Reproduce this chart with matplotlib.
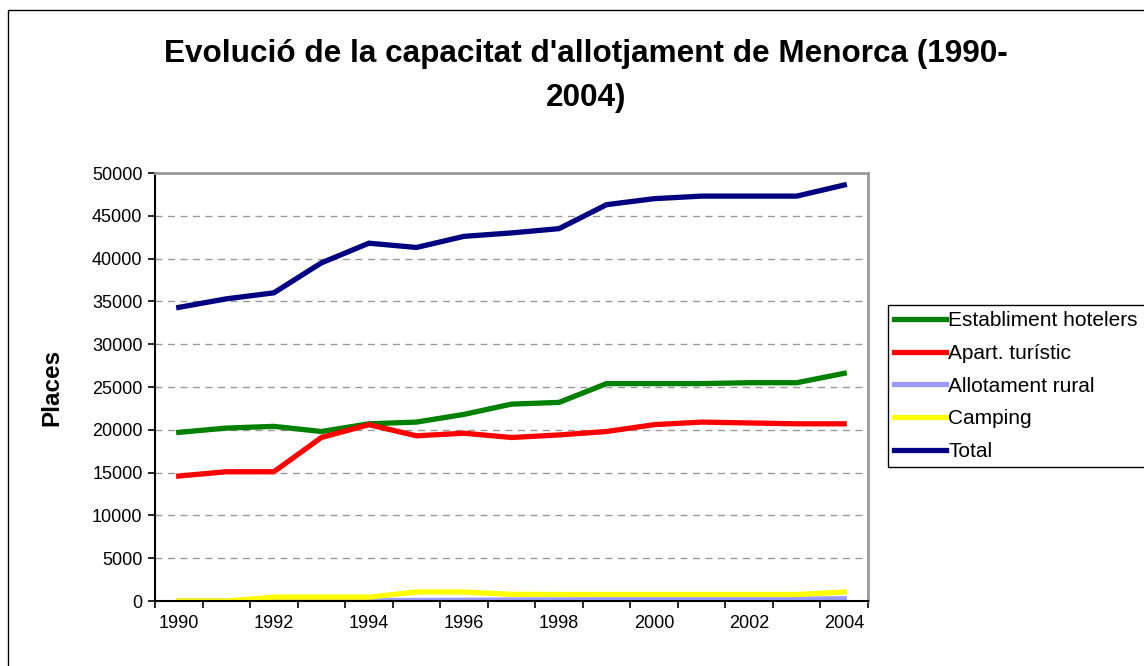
import numpy as np
import matplotlib.pyplot as plt
from matplotlib.patches import Rectangle

plt.rcParams['font.family'] = ['Liberation Sans', 'DejaVu Sans']

years = list(range(1990, 2005))
hotelers = [19700, 20200, 20400, 19800, 20700, 20900, 21800, 23000, 23200, 25400, 25400, 25400, 25500, 25500, 26600]
apart = [14600, 15100, 15100, 19100, 20600, 19300, 19600, 19100, 19400, 19800, 20600, 20900, 20800, 20700, 20700]
rural = [0, 0, 30, 40, 50, 60, 80, 120, 140, 160, 180, 190, 200, 210, 260]
camping = [0, 0, 450, 450, 450, 1050, 1050, 780, 760, 760, 760, 760, 760, 760, 1050]
total = [34300, 35300, 36000, 39500, 41800, 41300, 42600, 43000, 43500, 46300, 47000, 47300, 47300, 47300, 48600]

names = ["Establiment hotelers", "Apart. turístic", "Allotament rural", "Camping", "Total"]
colors = ["#008000", "#FF0000", "#9999FF", "#FFFF00", "#000080"]
series = [hotelers, apart, rural, camping, total]

fig = plt.figure(figsize=(11.44, 6.66), dpi=100)
ax = fig.add_axes([155/1144, 65/666, 713/1144, 428/666])

x = np.arange(len(years))
for vals, name, c in zip(series, names, colors):
    ax.plot(x, vals, color=c, lw=3.8, label=name, solid_joinstyle='miter')

ax.set_xlim(-0.5, len(years) - 0.5)
ax.set_ylim(0, 50000)
ax.set_yticks(range(0, 50001, 5000))
ax.set_xticks(x[::2])
ax.set_xticklabels([str(y) for y in years[::2]])
ax.set_xticks(np.arange(-0.5, len(years), 1), minor=True)
ax.tick_params(axis='x', which='major', length=0, pad=10, labelsize=13)
ax.tick_params(axis='x', which='minor', length=5, width=1.2, direction='out')
ax.tick_params(axis='y', length=5, width=1.2, direction='out', labelsize=13, pad=4)

for v in range(5000, 50000, 5000):
    ax.axhline(v, color='#999999', lw=1, ls=(0, (5, 4)), zorder=0)

ax.spines['top'].set_color('#999999')
ax.spines['right'].set_color('#999999')
ax.spines['top'].set_linewidth(2)
ax.spines['right'].set_linewidth(2)
ax.spines['left'].set_linewidth(1.5)
ax.spines['bottom'].set_linewidth(1.5)

ax.set_ylabel("Places", fontsize=17.5, fontweight='bold')
ax.yaxis.set_label_coords(-0.128, 0.5)

fig.text(0.512, 0.941, "Evolució de la capacitat d'allotjament de Menorca (1990-\n2004)",
         ha='center', va='top', fontsize=22.7, fontweight='bold', linespacing=1.6)

leg = fig.legend(loc='upper left', bbox_to_anchor=(888/1144, (666-305)/666 - 0.3, 0.24, 0.3),
                 mode='expand', fontsize=15,
                 handlelength=2.5, handletextpad=0.1, labelspacing=0.66, borderpad=0.3,
                 borderaxespad=0, fancybox=False, framealpha=1)
leg.get_frame().set_edgecolor('black')
leg.get_frame().set_linewidth(1)

fig.patches.append(Rectangle((8/1144, -0.1), 1.2, (666-10)/666 + 0.1, transform=fig.transFigure,
                             fill=False, edgecolor='black', lw=1))

fig.savefig("out.png", dpi=100)
